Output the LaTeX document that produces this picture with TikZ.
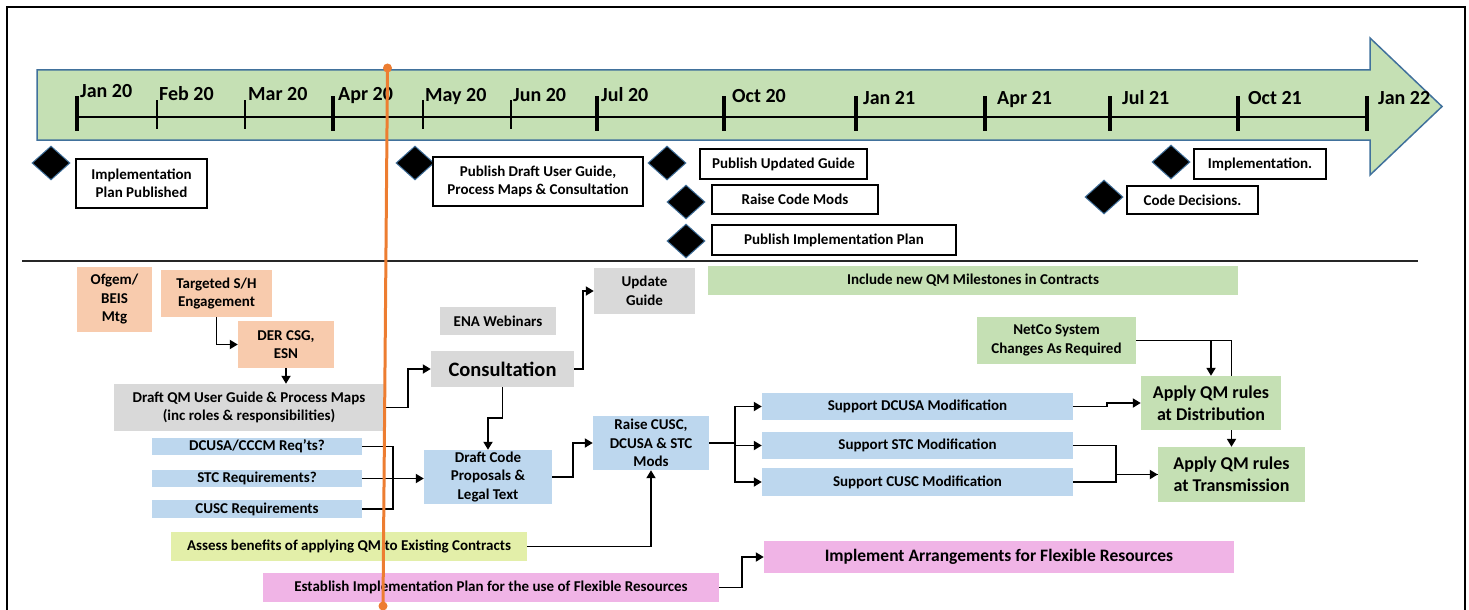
\documentclass[tikz,border=0pt]{standalone}
\usepackage{fontspec}
\setmainfont{Carlito}
\usetikzlibrary{arrows.meta, positioning, calc, backgrounds, shapes.geometric}
\definecolor{TimelineGreen}{HTML}{C5E0B4}
\definecolor{TimelineEdge}{HTML}{41719C}
\definecolor{PeachFill}{HTML}{F8CBAD}
\definecolor{GreyFill}{HTML}{D9D9D9}
\definecolor{BlueFill}{HTML}{BDD7EE}
\definecolor{LimeFill}{HTML}{E3EFA9}
\definecolor{PinkFill}{HTML}{F0B4E6}
\definecolor{TodayOrange}{HTML}{ED7D31}
\newcommand{\boxfont}{\fontsize{15}{18.5}\selectfont\bfseries}
\newcommand{\monthfont}{\fontsize{20}{24}\selectfont\bfseries}
\newcommand{\bigfont}{\fontsize{20.5}{24}\selectfont\bfseries}
\newcommand{\applyfont}{\fontsize{18}{22}\selectfont\bfseries}
\newcommand{\flexfont}{\fontsize{17.5}{21}\selectfont\bfseries}
\tikzset{
    % Size of a box, in pixels of the plan
    dims/.style 2 args={
        minimum width=#1pt,
        minimum height=#2pt
    },
    % Plain task box
    task/.style={
        rectangle,
        inner sep=0pt,
        align=center,
        text=black,
        font=\boxfont
    },
    % Stakeholder box
    peach/.style={task, fill=PeachFill},
    % Guide box
    grey/.style={task, fill=GreyFill},
    % Code change box
    blue/.style={task, fill=BlueFill},
    % Contract / system box
    green/.style={task, fill=TimelineGreen},
    % Existing contracts box
    lime/.style={task, fill=LimeFill},
    % Flexible resources box
    pink/.style={task, fill=PinkFill},
    % Milestone marker
    milestone/.style={
        diamond,
        fill=black,
        draw=TimelineEdge,
        line width=1pt,
        minimum width=38pt,
        minimum height=34pt,
        inner sep=0pt
    },
    % Milestone label
    note/.style={
        rectangle,
        draw=black,
        line width=1.5pt,
        fill=white,
        inner sep=0pt,
        align=center,
        font=\boxfont
    },
    % Month label
    month/.style={inner sep=0pt, font=\monthfont},
    % Timeline ticks
    majortick/.style={line width=4pt},
    minortick/.style={line width=1.5pt},
    % Arrow style
    arrow/.style={
        -{Triangle[length=8pt,width=9pt]},
        line width=1.8pt,
        color=black
    },
    % Plain connector
    link/.style={line width=1.8pt, color=black}
}
\begin{document}
\begin{tikzpicture}[x=1pt, y=-1pt]
    \useasboundingbox (0,0) rectangle (1469,610);

    % Frame
    \draw[line width=2pt] (7,625) -- (7,7) -- (1465,7) -- (1465,625);

    % Timeline arrow
    \draw[fill=TimelineGreen, draw=TimelineEdge, line width=1.5pt]
        (37,70) -- (1370,70) -- (1370,38) -- (1442,106.5) -- (1370,175) -- (1370,140) -- (37,140) -- cycle;
    \draw[line width=2pt] (77,117) -- (1367,117);

    \foreach \x/\d/\b/\lab in {77/3/97/Jan 20, 333/5/100/Apr 20, 597/4/101/Jul 20, 724/8/102/Oct 20,
        856/7/104/Jan 21, 985/12/104/Apr 21, 1110/12/104/Jul 21, 1238/10/104/Oct 21, 1367/11/104/Jan 22} {
        \draw[majortick] (\x,96) -- (\x,131);
        \node (m\x) [month, anchor=base west] at (\x+\d,\b) {\lab};
    }
    \foreach \x/\d/\b/\lab in {157/2/100/Feb 20, 245/3/100/Mar 20, 423/2/101/May 20, 511/2/101/Jun 20} {
        \draw[minortick] (\x,100) -- (\x,129);
        \node (m\x) [month, anchor=base west] at (\x+\d,\b) {\lab};
    }

    % Milestones
    \node (ms1) [milestone] at (51,163) {};
    \node (implplan) [note, dims={131}{49}] at (141.5,183.5) {Implementation\\Plan Published};
    \node (ms2) [milestone] at (415,163) {};
    \node (pubdraft) [note, dims={210}{49}] at (538,181.5) {Publish Draft User Guide,\\Process Maps \& Consultation};
    \node (ms3) [milestone] at (667,163) {};
    \node (pubguide) [note, dims={167}{30}] at (783.5,164) {Publish Updated Guide};
    \node (ms4) [milestone] at (686,202) {};
    \node (codemods) [note, dims={166}{29}] at (795,199.5) {Raise Code Mods};
    \node (ms5) [milestone] at (686,241) {};
    \node (pubplan) [note, dims={244}{30}] at (834,240) {Publish Implementation Plan};
    \node (ms6) [milestone] at (1171,162) {};
    \node (implement) [note, dims={132}{30}] at (1260,164) {Implementation.};
    \node (ms7) [milestone] at (1104,197) {};
    \node (decisions) [note, dims={131}{28}] at (1192.5,200) {Code Decisions.};

    % Separator
    \draw[line width=2pt, black!85] (22,261) -- (1418,261);

    % Engagement and guide
    \node (ofgem) [peach, dims={75}{65}] at (114.5,299.5) {Ofgem/\\BEIS\\Mtg};
    \node (targeted) [peach, dims={111}{47}] at (216.5,293.5) {Targeted S/H\\Engagement};
    \node (dercsg) [peach, dims={96}{47}] at (286,344.5) {DER CSG,\\ESN};
    \node (draftqm) [grey, dims={270}{47}] at (249,407.5) {Draft QM User Guide \& Process Maps\\(inc roles \& responsibilities)};
    \node (webinars) [grey, dims={116}{28}] at (498,321) {ENA Webinars};
    \node (consult) [grey, dims={143}{36}, font=\bigfont] at (502.5,369) {Consultation};
    \node (update) [grey, dims={101}{46}] at (644.5,291) {Update\\Guide};

    % Code requirements
    \node (reqdcusa) [blue, dims={210}{17}] at (257,446.5) {DCUSA/CCCM Req’ts?};
    \node (reqstc) [blue, dims={210}{17}] at (257,478.5) {STC Requirements?};
    \node (reqcusc) [blue, dims={210}{18}] at (257,509) {CUSC Requirements};
    \node (draftcode) [blue, dims={128}{54}] at (488,477) {Draft Code\\Proposals \&\\Legal Text};
    \node (raise) [blue, dims={116}{54}] at (651,443) {Raise CUSC,\\DCUSA \& STC\\Mods};
    \node (assess) [lime, dims={356}{29}] at (349,546.5) {Assess benefits of applying QM to Existing Contracts};
    \node (establish) [pink, dims={456}{29}] at (491,587.5) {Establish Implementation Plan for the use of Flexible Resources};

    % Modifications and rules
    \node (qmmiles) [green, dims={530}{29}] at (973,280.5) {Include new QM Milestones in Contracts};
    \node (netco) [green, dims={159}{47}] at (1056.5,340.5) {NetCo System\\Changes As Required};
    \node (sdcusa) [blue, dims={311}{27}] at (917.5,406.5) {Support DCUSA Modification};
    \node (sstc) [blue, dims={311}{27}] at (917.5,445.5) {Support STC Modification};
    \node (scusc) [blue, dims={311}{28}] at (917.5,482) {Support CUSC Modification};
    \node (dist) [green, dims={140}{54}, font=\applyfont] at (1211,403) {Apply QM rules\\at Distribution};
    \node (trans) [green, dims={147}{55}, font=\applyfont] at (1231.5,474.5) {Apply QM rules\\at Transmission};
    \node (flex) [pink, dims={470}{32}, font=\flexfont] at (999,557) {Implement Arrangements for Flexible Resources};

    % Connectors
    \draw [arrow] (targeted.south) |- (dercsg.west);
    \draw [arrow] (dercsg.south) -- (dercsg.south |- draftqm.north);
    \draw [arrow] (draftqm.east) -- ++(24,0) |- (consult.west);
    \draw [arrow] (consult.east) -- ++(9,0) |- (update.west);
    \draw [arrow] (consult.south) -- ++(0,31) -| (draftcode.north);
    \draw [link] (reqdcusa.east) -| (393,477);
    \draw [link] (reqcusc.east) -| (393,477);
    \draw [arrow] (reqstc.east) -- (reqstc.east -| draftcode.west);
    \draw [arrow] (draftcode.east) -- ++(21,0) |- (raise.west);
    \draw [arrow] (assess.east) -| (raise.south);
    \draw [link] (raise.east) -- ++(26,0) coordinate (split);
    \draw [arrow] (split) |- (sdcusa.west);
    \draw [arrow] (split) |- (sstc.west);
    \draw [arrow] (split) |- (scusc.west);
    \draw [arrow] (sdcusa.east) -- ++(34,0) |- (dist.west);
    \draw [arrow] (sstc.east) -- ++(43,0) |- (trans.west);
    \draw [link] (scusc.east) -- ++(43,0) |- (trans.west);
    \draw [arrow] (netco.east) -| (dist.north);
    \begin{scope}[on background layer]
        \draw [arrow] (netco.east) -| (trans.north);
    \end{scope}
    \draw [arrow] (establish.east) -- ++(23,0) |- (flex.west);

    % Today marker
    \draw[TodayOrange, line width=3pt] (387.5,68) -- (383,606);
    \fill[TodayOrange] (387.5,68) circle (4.5);
    \fill[TodayOrange] (383,606) circle (4.5);
\end{tikzpicture}
\end{document}
